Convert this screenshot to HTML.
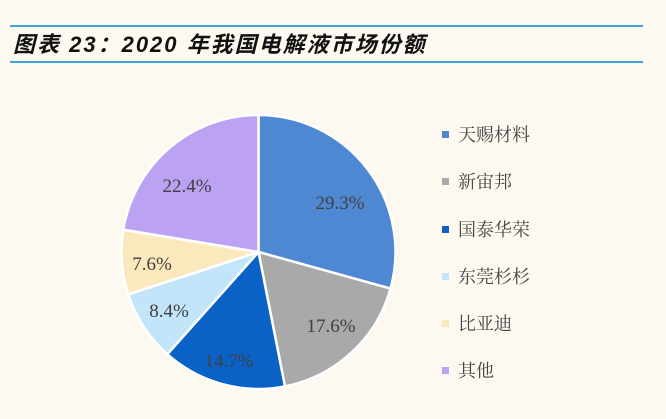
<!DOCTYPE html>
<html><head><meta charset="utf-8"><style>
body{margin:0;background:#fdf9f0;}
svg{display:block}
</style></head><body>
<svg width="666" height="419" xmlns="http://www.w3.org/2000/svg">
<rect width="666" height="419" fill="#fdf9f0"/>
<line x1="10" y1="26" x2="643" y2="26" stroke="#3fa3d6" stroke-width="2"/>
<line x1="10" y1="62" x2="643" y2="62" stroke="#3fa3d6" stroke-width="2"/>
<text x="13" y="52" font-family="'Liberation Sans','Noto Sans CJK SC',sans-serif" font-size="22" font-weight="bold" font-style="italic" fill="#111" letter-spacing="2">图表 23：2020 年我国电解液市场份额</text>
<g stroke="#fff" stroke-width="2.5" stroke-linejoin="round">
<path d="M258.5,252 L258.5,115 A137,137 0 0,1 390.5,288.6 Z" fill="#4f88d2"/>
<path d="M258.5,252 L390.5,288.6 A137,137 0 0,1 285,386.4 Z" fill="#a9a9a9"/>
<path d="M258.5,252 L285,386.4 A137,137 0 0,1 167.3,354.2 Z" fill="#0a62c6"/>
<path d="M258.5,252 L167.3,354.2 A137,137 0 0,1 128.2,294.3 Z" fill="#c2e5f9"/>
<path d="M258.5,252 L128.2,294.3 A137,137 0 0,1 123.3,229.7 Z" fill="#fce8bd"/>
<path d="M258.5,252 L123.3,229.7 A137,137 0 0,1 258.5,115 Z" fill="#bba2f3"/>
</g>
<g font-family="'Liberation Serif',serif" font-size="19" fill="#404040" text-anchor="middle">
<text x="340" y="209">29.3%</text>
<text x="331" y="332">17.6%</text>
<text x="229" y="367">14.7%</text>
<text x="169" y="317">8.4%</text>
<text x="152" y="270">7.6%</text>
<text x="187" y="192">22.4%</text>
</g>
<g font-family="'Liberation Serif','Noto Serif CJK SC',serif" font-size="18" fill="#444">
<rect x="442" y="131" width="7" height="7" fill="#4f88d2"/><text x="458" y="141">天赐材料</text>
<rect x="442" y="178" width="7" height="7" fill="#a9a9a9"/><text x="458" y="188">新宙邦</text>
<rect x="442" y="226" width="7" height="7" fill="#0a62c6"/><text x="458" y="236">国泰华荣</text>
<rect x="442" y="273" width="7" height="7" fill="#c2e5f9"/><text x="458" y="283">东莞杉杉</text>
<rect x="442" y="320" width="7" height="7" fill="#fce8bd"/><text x="458" y="330">比亚迪</text>
<rect x="442" y="367" width="7" height="7" fill="#bba2f3"/><text x="458" y="377">其他</text>
</g>
</svg>
</body></html>
